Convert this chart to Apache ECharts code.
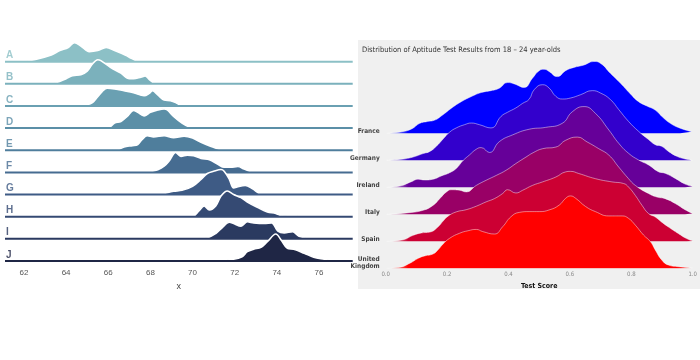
<!DOCTYPE html>
<html><head><meta charset="utf-8">
<script src="https://cdn.jsdelivr.net/npm/echarts@6/dist/echarts.min.js"></script>
<style>html,body{margin:0;padding:0;background:#fff}#c{width:700px;height:360px}</style>
</head><body><div id="c"></div>
<script>
// ---------- left chart data (x value, density) ----------
const leftRows = ['A','B','C','D','E','F','G','H','I','J'];
const leftTicks = [62,64,66,68,70,72,74,76];
const ridgeA = [[61.8,0],[62.5,9],[63.3,30],[63.7,50],[64.1,64],[64.4,86],[64.7,71],[65.1,45],[65.5,50],[65.9,64],[66.3,50],[66.8,30],[67.1,15],[67.4,0]];
const ridgeB = [[62.9,0],[63.5,5],[64.0,23],[64.3,37],[64.7,41],[65.0,57],[65.25,90],[65.5,109],[65.65,105],[66.1,75],[66.6,48],[67.0,23],[67.2,23],[67.55,30],[67.75,35],[67.95,19],[68.2,0]];
const ridgeC = [[64.6,0],[64.95,5],[65.25,15],[65.5,42],[65.7,64],[65.95,80],[66.3,77],[66.75,69],[67.2,60],[67.7,46],[67.95,57],[68.1,69],[68.35,50],[68.65,27],[68.95,24],[69.2,15],[69.45,0]];
const ridgeD = [[65.8,0],[66.05,3],[66.3,23],[66.6,30],[66.9,53],[67.2,80],[67.4,71],[67.7,55],[68.0,71],[68.35,82],[68.65,87],[68.8,82],[69.1,53],[69.5,23],[69.85,5],[70.2,0]];
const ridgeE = [[66.1,0],[66.45,3],[66.75,15],[67.15,21],[67.4,26],[67.6,48],[67.85,66],[68.15,60],[68.65,66],[69.1,57],[69.6,63],[70.0,55],[70.4,36],[70.85,18],[71.4,0]];
const ridgeF = [[67.7,0],[68.0,3],[68.35,12],[68.65,28],[68.9,53],[69.2,90],[69.45,72],[69.75,78],[70.05,75],[70.4,63],[70.8,57],[71.2,37],[71.5,23],[71.8,23],[72.15,27],[72.45,15],[72.85,0]];
const ridgeG = [[68.3,0],[68.55,3],[69.1,15],[69.5,19],[70.0,37],[70.4,68],[70.7,95],[71.0,105],[71.35,113],[71.5,105],[71.75,68],[71.95,30],[72.2,37],[72.5,41],[72.85,26],[73.25,3],[73.7,5],[74.0,0]];
const ridgeH = [[69.8,0],[70.05,3],[70.3,26],[70.55,48],[70.8,30],[71.1,48],[71.35,93],[71.65,116],[71.95,100],[72.3,86],[72.6,66],[73.1,41],[73.55,21],[73.95,15],[74.25,3],[74.8,5],[75.1,0]];
const ridgeI = [[69.9,0],[70.7,5],[71.1,24],[71.4,50],[71.75,75],[71.95,69],[72.3,57],[72.6,77],[72.9,72],[73.4,69],[73.75,72],[74.05,35],[74.35,27],[74.75,32],[75.05,12],[75.7,0]];
const ridgeJ = [[70.85,0],[71.95,8],[72.35,19],[72.6,42],[72.9,53],[73.25,62],[73.55,87],[73.95,122],[74.2,95],[74.5,57],[74.8,53],[75.3,35],[75.75,17],[76.25,8],[76.7,0]];
const leftRidges = [ridgeA,ridgeB,ridgeC,ridgeD,ridgeE,ridgeF,ridgeG,ridgeH,ridgeI,ridgeJ];

// ---------- right chart data (test score, density) ----------
const countries = ['France','Germany','Ireland','Italy','Spain','United\nKingdom'];
const scoreTicks = [0,0.2,0.4,0.6,0.8,1.0];
const france = [[0.003,0],[0.052,0.06],[0.084,0.16],[0.111,0.37],[0.133,0.43],[0.160,0.49],[0.181,0.64],[0.214,0.93],[0.246,1.17],[0.279,1.36],[0.311,1.51],[0.343,1.58],[0.370,1.67],[0.397,1.88],[0.419,1.83],[0.451,1.70],[0.478,2.04],[0.500,2.32],[0.516,2.37],[0.532,2.29],[0.559,2.10],[0.586,2.32],[0.613,2.44],[0.646,2.53],[0.678,2.66],[0.700,2.59],[0.732,2.22],[0.765,1.85],[0.797,1.46],[0.824,1.17],[0.851,1.01],[0.878,0.86],[0.900,0.62],[0.927,0.37],[0.959,0.19],[0.997,0.06]];
const germany = [[0.003,0],[0.057,0.05],[0.089,0.12],[0.122,0.25],[0.144,0.33],[0.165,0.52],[0.187,0.79],[0.208,1.04],[0.230,1.20],[0.257,1.32],[0.279,1.38],[0.305,1.32],[0.343,1.20],[0.376,1.63],[0.397,1.78],[0.424,1.94],[0.446,2.11],[0.467,2.26],[0.484,2.62],[0.511,2.80],[0.532,2.68],[0.554,2.37],[0.576,2.27],[0.603,2.31],[0.635,2.43],[0.673,2.58],[0.700,2.49],[0.732,2.25],[0.759,1.88],[0.791,1.44],[0.824,1.07],[0.856,0.77],[0.878,0.58],[0.899,0.52],[0.921,0.33],[0.948,0.15],[0.975,0.05],[1.0,0]];
const ireland = [[0.003,0],[0.046,0.05],[0.084,0.21],[0.106,0.30],[0.127,0.27],[0.154,0.30],[0.181,0.42],[0.208,0.54],[0.230,0.70],[0.252,0.99],[0.273,1.20],[0.295,1.41],[0.311,1.47],[0.338,1.29],[0.370,1.69],[0.413,1.94],[0.467,2.15],[0.521,2.22],[0.575,2.37],[0.608,2.80],[0.646,2.99],[0.683,2.74],[0.727,2.12],[0.759,1.63],[0.791,1.26],[0.824,1.01],[0.856,0.83],[0.888,0.58],[0.910,0.52],[0.943,0.33],[0.975,0.12],[1.0,0.03]];
const italy = [[0.003,0],[0.068,0.05],[0.122,0.15],[0.154,0.33],[0.176,0.58],[0.198,0.83],[0.214,0.91],[0.241,0.89],[0.262,0.83],[0.295,1.07],[0.327,1.26],[0.360,1.44],[0.392,1.63],[0.424,1.88],[0.457,2.12],[0.480,2.28],[0.511,2.43],[0.554,2.49],[0.586,2.74],[0.624,2.86],[0.656,2.68],[0.694,2.43],[0.727,2.19],[0.759,1.75],[0.791,1.32],[0.813,1.07],[0.856,0.77],[0.883,0.64],[0.910,0.58],[0.943,0.40],[0.975,0.17],[1.0,0.03]];
const spain = [[0.003,0],[0.057,0.06],[0.089,0.22],[0.117,0.31],[0.144,0.34],[0.170,0.53],[0.187,0.75],[0.203,0.93],[0.230,1.09],[0.262,1.17],[0.295,1.30],[0.327,1.46],[0.354,1.58],[0.381,1.77],[0.397,1.91],[0.424,1.79],[0.446,1.89],[0.478,2.07],[0.511,2.20],[0.554,2.38],[0.586,2.57],[0.602,2.59],[0.629,2.51],[0.683,2.32],[0.737,2.20],[0.775,2.14],[0.791,2.01],[0.813,1.70],[0.835,1.33],[0.856,1.03],[0.878,0.90],[0.899,0.71],[0.921,0.53],[0.953,0.29],[0.980,0.10],[1.0,0.01]];
const uk = [[0.003,0],[0.046,0.04],[0.079,0.19],[0.106,0.37],[0.127,0.46],[0.154,0.53],[0.170,0.68],[0.187,0.90],[0.208,1.11],[0.241,1.30],[0.268,1.39],[0.295,1.44],[0.316,1.36],[0.354,1.27],[0.381,1.54],[0.408,1.91],[0.435,2.07],[0.467,2.10],[0.500,2.10],[0.532,2.16],[0.565,2.34],[0.586,2.59],[0.602,2.68],[0.619,2.59],[0.651,2.29],[0.683,2.10],[0.727,1.94],[0.770,1.94],[0.791,1.85],[0.813,1.60],[0.840,1.23],[0.862,0.99],[0.878,0.68],[0.899,0.31],[0.921,0.12],[0.953,0.06],[1.0,0.01]];
const countryCurves = [france,germany,ireland,italy,spain,uk];

// ---------- styles ----------
const leftColors = ['#8cc0c6','#7bb1bc','#6aa0b2','#5b8fa7','#4f7e9c','#466c91','#3e5b85','#354a73','#2b3a60','#1f2645'];
const rightColors = [[0,0,255],[51,0,204],[102,0,153],[153,0,102],[204,0,51],[255,0,0]];
const LX0 = 61.1, LX1 = 77.6;
const narrow = "'Liberation Sans Narrow','DejaVu Sans Condensed','Roboto Condensed',Roboto,sans-serif";

const series = [];
leftRidges.forEach((r, i) => {
  const base = 9 - i;
  series.push({
    type: 'line', xAxisIndex: 0, yAxisIndex: 0, z: 10 + 2 * i,
    data: r.map(p => [p[0], base + p[1] / 100]),
    smooth: 0.35, symbol: 'none', silent: true,
    lineStyle: { color: '#ffffff', width: 1.6 },
    areaStyle: { color: leftColors[i], opacity: 1, origin: base }
  });
  series.push({
    type: 'line', xAxisIndex: 0, yAxisIndex: 0, z: 11 + 2 * i,
    data: [[LX0, base], [LX1, base]], symbol: 'none', silent: true,
    lineStyle: { color: leftColors[i], width: 2 }
  });
});
series.push({
  type: 'scatter', xAxisIndex: 0, yAxisIndex: 0, z: 40, symbolSize: 0, silent: true,
  data: leftRows.map((n, i) => ({ name: n, value: [LX0, 9 - i + 0.28],
    label: { color: leftColors[i] } })),
  label: { show: true, position: 'right', distance: 1, formatter: '{b}',
    fontSize: 10, fontWeight: 'bold', fontFamily: 'Liberation Sans, Arial, sans-serif' }
});

countryCurves.forEach((c, j) => {
  const base = 5 - j;
  const rgb = rightColors[j].join(',');
  series.push({
    type: 'line', xAxisIndex: 1, yAxisIndex: 1, z: 50 + j,
    data: c.map(p => [p[0], base + p[1]]),
    smooth: 0.5, symbol: 'none', silent: true,
    lineStyle: { color: 'rgba(255,255,255,0.45)', width: 1 },
    areaStyle: { opacity: 1, origin: base,
      color: new echarts.graphic.LinearGradient(0, 0, 1, 0, [
        { offset: 0, color: 'rgba(' + rgb + ',0.05)' },
        { offset: 0.07, color: 'rgb(' + rgb + ')' },
        { offset: 1, color: 'rgb(' + rgb + ')' }]) }
  });
});
series.push({
  type: 'scatter', xAxisIndex: 1, yAxisIndex: 1, z: 60, symbolSize: 0, silent: true,
  data: countries.map((n, j) => ({ name: n, value: [0, 5 - j + (j === 5 ? 0.2 : 0.07)] })),
  label: { show: true, position: 'left', distance: 6, formatter: '{b}', align: 'right',
    fontSize: 6.5, lineHeight: 7.5, fontWeight: 'bold', color: '#111', fontFamily: narrow }
});

const chart = echarts.init(document.getElementById('c'), null, { renderer: 'canvas' });
chart.setOption({
  animation: false,
  backgroundColor: '#ffffff',
  title: { text: 'Distribution of Aptitude Test Results from 18 – 24 year-olds',
    left: 357, top: 41,
    textStyle: { fontSize: 7.5, fontWeight: 'normal', color: '#333', fontFamily: narrow } },
  graphic: [{ type: 'rect', z: -1, silent: true,
    shape: { x: 358, y: 40, width: 342, height: 249 }, style: { fill: '#f0f0f0' } }],
  grid: [
    { left: 5, width: 347.7, top: 30, height: 231 },
    { left: 385.7, width: 308.7, top: 40, height: 228.3 }
  ],
  xAxis: [
    { type: 'value', gridIndex: 0, min: LX0, max: LX1,
      axisLine: { show: false }, axisTick: { show: false }, splitLine: { show: false },
      axisLabel: { customValues: leftTicks, color: '#555', fontSize: 8, margin: 8,
        fontFamily: 'Liberation Sans, Arial, sans-serif' },
      name: 'x', nameLocation: 'middle', nameGap: 20,
      nameTextStyle: { fontSize: 9, color: '#444', fontFamily: 'Liberation Sans, Arial, sans-serif' } },
    { type: 'value', gridIndex: 1, min: 0, max: 1, interval: 0.2,
      axisLine: { show: false }, axisTick: { show: false }, splitLine: { show: false },
      axisLabel: { formatter: v => v.toFixed(1), color: '#888', fontSize: 6, margin: 3, fontFamily: narrow },
      name: 'Test Score', nameLocation: 'middle', nameGap: 9,
      nameTextStyle: { fontSize: 7, fontWeight: 'bold', color: '#111', fontFamily: narrow } }
  ],
  yAxis: [
    { type: 'value', gridIndex: 0, min: 0, max: 10.43, show: false },
    { type: 'value', gridIndex: 1, min: 0, max: 8.456, show: false }
  ],
  series: series
});
</script></body></html>
